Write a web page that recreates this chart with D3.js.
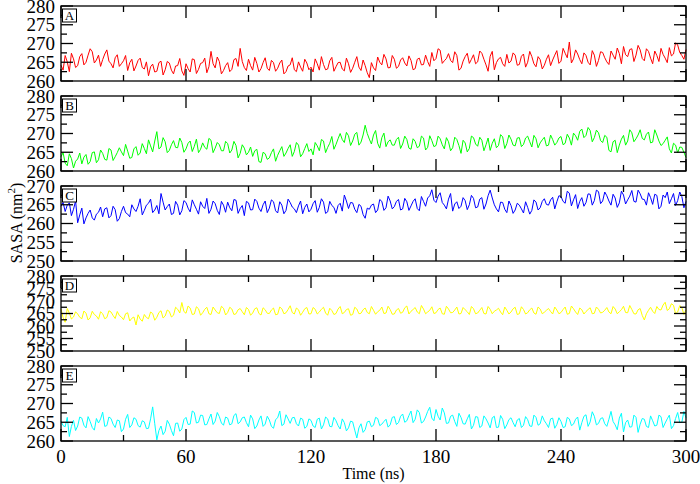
<!DOCTYPE html>
<html>
<head>
<meta charset="utf-8">
<script src="https://cdn.jsdelivr.net/npm/d3@7"></script>
<style>
  body { margin: 0; background: #fff; }
  svg text { font-family: 'Liberation Serif', 'Times New Roman', serif; fill: #000; }
</style>
</head>
<body>
<div id="chart"></div>
<script>
// samples at even ns (0..300) and at odd ns (1..299)
var xTicks = [0, 60, 120, 180, 240, 300];
var panelLabels = ['A', 'B', 'C', 'D', 'E'];
var panelColors = ['#ff0000', '#00ff00', '#0000ff', '#ffff00', '#00ffff'];
var yDomains = [[260, 280], [260, 280], [250, 270], [250, 280], [260, 280]];

var sasaA = [
  264.2, 266.8, 262.5, 265.9, 264.1, 267.3, 265.0, 268.6, 264.8, 266.9,
  265.7, 268.3, 264.6, 266.2, 263.9, 265.4, 262.8, 265.8, 264.0, 266.1,
  263.2, 261.4, 264.5, 262.6, 265.3, 263.0, 264.8, 261.9, 264.1, 262.7,
  264.6, 262.4, 265.7, 263.1, 264.9, 262.2, 267.9, 263.5, 265.2, 262.8,
  264.9, 263.1, 266.0, 268.7, 263.6, 265.8, 262.9, 264.7, 263.3, 266.2,
  262.8, 264.9, 263.4, 265.6, 262.5, 264.3, 263.0, 265.1, 262.6, 264.8,
  263.7, 265.9, 262.9, 264.4, 263.2, 266.3, 263.8, 265.0, 262.7, 264.6,
  263.4, 266.5, 262.8, 264.1, 260.9, 263.5, 266.4, 264.3, 265.9, 263.6,
  265.8, 263.9, 266.2, 264.0, 265.5, 263.3, 266.1, 264.4, 265.2, 267.6,
  266.0, 268.2, 265.4, 267.3, 264.9, 266.8, 263.4, 266.5, 264.7, 267.0,
  265.1, 267.4, 264.3, 266.6, 263.0, 265.9, 264.6, 267.1, 265.3, 266.9,
  264.4, 267.2, 265.0, 266.5, 263.8, 265.7, 264.2, 267.0, 265.6, 268.1,
  265.3, 267.4, 270.4, 265.9, 267.2, 264.6, 266.8, 264.3, 266.9, 265.5,
  267.6, 265.1, 268.0, 265.8, 267.3, 269.2, 266.5, 268.6, 266.9, 268.3,
  265.4, 267.9, 264.6, 266.8, 268.7, 266.1, 268.9, 267.2, 269.6, 266.8,
  268.4
];
var sasaAOdd = [
  262.9, 265.1, 267.4, 263.6, 266.5, 264.3, 266.9, 267.8, 265.6, 263.9,
  267.2, 265.3, 263.5, 267.0, 264.6, 266.8, 264.9, 262.7, 265.5, 263.6,
  265.1, 263.8, 262.4, 264.9, 261.6, 265.2, 262.9, 264.0, 266.0, 261.5,
  263.3, 265.9, 262.0, 264.7, 266.1, 263.8, 264.6, 266.4, 261.9, 264.1,
  262.5, 265.7, 263.9, 265.2, 262.8, 264.1, 266.3, 262.4, 264.9, 263.4,
  265.5, 262.6, 264.8, 261.9, 264.0, 266.2, 262.5, 263.7, 265.8, 263.0,
  262.4, 264.6, 266.5, 263.0, 265.4, 262.6, 264.9, 263.2, 266.1, 262.3,
  265.0, 263.7, 265.6, 262.2, 264.9, 262.8, 265.0, 267.1, 263.5, 266.8,
  263.4, 265.6, 264.8, 266.7, 263.0, 265.8, 264.3, 266.9, 263.9, 265.4,
  268.6, 264.7, 266.0, 265.5, 267.8, 262.9, 265.3, 267.4, 265.8, 264.6,
  268.0, 265.8, 262.6, 267.9, 264.9, 266.3, 263.9, 264.8, 267.5, 264.2,
  266.6, 263.7, 267.9, 264.6, 266.5, 263.2, 265.8, 264.1, 266.9, 264.7,
  268.7, 266.2, 264.8, 268.3, 265.7, 267.5, 265.0, 268.1, 263.9, 267.8,
  266.2, 264.4, 266.9, 268.8, 264.6, 267.0, 268.4, 265.2, 269.5, 266.0,
  268.6, 266.1, 268.0, 265.2, 267.1, 264.9, 266.7, 270.2, 267.6, 265.8
];
var sasaB = [
  263.8, 262.1, 264.6, 260.8, 263.2, 261.9, 264.4, 262.5, 265.1, 263.0,
  264.7, 262.9, 265.6, 263.8, 266.2, 264.1, 265.3, 263.6, 266.5, 264.8,
  266.0, 268.3, 265.1, 270.5, 266.4, 267.8, 265.5, 268.1, 266.2, 267.6,
  265.9, 268.0, 266.6, 264.9, 267.5, 265.8, 268.2, 266.1, 267.0, 265.4,
  267.3, 265.6, 266.8, 264.7, 266.1, 265.0, 263.9, 265.8, 262.3, 264.6,
  263.5, 265.9, 264.2, 266.5, 264.8, 267.0, 265.2, 266.9, 264.6, 267.3,
  265.9, 267.6, 265.4, 268.0, 266.3, 269.2, 267.1, 270.0, 267.6, 269.4,
  268.0, 270.3, 267.7, 272.2, 268.5, 269.6, 267.4, 268.9, 266.5, 268.3,
  266.9, 269.0, 267.2, 268.4, 265.8, 267.9, 266.6, 268.8, 266.3, 268.1,
  266.8, 268.6, 265.9, 267.8, 266.2, 268.4, 264.7, 267.5, 266.0, 268.9,
  266.6, 268.2, 267.0, 265.5, 268.6, 266.8, 269.1, 267.3, 268.5, 266.7,
  268.9, 267.1, 269.3, 266.4, 268.6, 267.5, 269.0, 266.9, 268.4, 267.6,
  269.2, 267.4, 268.8, 270.1, 268.2, 271.2, 269.5, 270.8, 268.9, 270.2,
  267.6, 269.0, 265.1, 268.2, 266.9, 269.5, 268.0, 270.2, 268.6, 271.0,
  268.3, 270.4, 267.7, 269.6, 266.8, 268.2, 265.9, 267.4, 264.8, 266.3,
  263.6
];
var sasaBOdd = [
  264.9, 261.4, 263.3, 262.6, 264.8, 263.7, 261.8, 264.9, 262.2, 265.6,
  263.1, 266.0, 262.8, 264.9, 265.1, 267.1, 263.4, 265.9, 264.2, 267.3,
  264.6, 266.7, 268.0, 265.9, 268.9, 264.9, 267.0, 266.3, 268.8, 265.0,
  267.4, 265.2, 268.5, 265.8, 266.3, 268.7, 264.9, 267.6, 265.4, 267.9,
  264.8, 267.9, 263.5, 267.0, 264.3, 266.4, 265.4, 262.5, 265.0, 263.1,
  264.9, 262.6, 265.4, 263.9, 266.0, 263.9, 267.6, 263.8, 266.0, 265.2,
  264.3, 266.7, 268.4, 264.9, 267.4, 265.8, 268.6, 268.4, 270.3, 266.8,
  269.8, 266.9, 269.6, 270.0, 267.2, 270.8, 266.1, 270.1, 267.8, 266.9,
  268.4, 266.0, 269.3, 266.1, 268.6, 266.2, 269.3, 265.6, 269.4, 266.5,
  269.3, 267.0, 268.9, 265.4, 269.0, 266.8, 268.2, 265.1, 269.3, 267.2,
  269.0, 265.4, 268.8, 267.4, 266.2, 269.7, 266.0, 269.6, 266.9, 268.8,
  266.5, 268.8, 267.8, 269.5, 266.2, 268.3, 266.7, 269.6, 266.9, 268.8,
  267.0, 269.8, 266.9, 269.4, 270.6, 268.9, 271.6, 267.8, 270.9, 268.1,
  269.5, 265.5, 267.8, 264.9, 268.5, 266.9, 271.0, 267.8, 269.6, 268.7,
  269.8, 267.5, 271.0, 268.0, 267.3, 269.1, 264.8, 266.9, 266.4, 265.0
];
var sasaC = [
  264.6, 263.2, 265.5, 263.8, 260.2, 264.1, 261.5, 263.6, 260.9, 263.0,
  261.8, 264.2, 262.1, 263.7, 261.3, 264.6, 262.5, 265.0, 263.2, 266.6,
  263.5, 265.4, 262.9, 264.8, 268.0, 263.6, 265.2, 262.7, 264.9, 263.4,
  265.6, 263.1, 265.0, 262.5, 264.6, 266.7, 263.8, 265.3, 262.4, 264.9,
  265.7, 263.4, 266.2, 264.0, 262.1, 265.5, 263.7, 265.9, 263.2, 266.0,
  264.1, 265.8, 262.8, 264.9, 263.5, 265.6, 263.9, 264.7, 262.6, 265.2,
  263.8, 266.1, 264.3, 265.7, 263.1, 264.8, 262.7, 265.4, 267.6, 264.0,
  265.5, 262.9, 264.6, 261.4, 263.8, 265.2, 263.6, 265.9, 264.2, 266.0,
  264.5, 266.4, 263.9, 265.8, 264.7, 266.6, 263.4, 265.9, 266.8, 269.0,
  265.6, 268.2, 264.9, 266.5, 263.3, 265.8, 264.6, 266.1, 265.0, 266.7,
  264.4, 266.9, 265.2, 268.9, 265.0, 263.1, 265.6, 262.9, 264.8, 263.6,
  264.9, 262.8, 264.3, 263.5, 265.7, 264.2, 266.6, 264.9, 267.0, 265.8,
  267.2, 265.4, 268.1, 266.3, 264.0, 266.9, 265.6, 267.8, 266.1, 268.5,
  266.0, 267.4, 264.9, 266.8, 265.5, 267.6, 266.3, 268.8, 265.7, 267.9,
  266.4, 268.2, 265.1, 267.5, 264.6, 266.9, 265.3, 268.0, 266.1, 267.2,
  265.9
];
var sasaCOdd = [
  265.6, 264.9, 262.1, 266.0, 262.3, 259.9, 262.7, 261.5, 262.5, 264.4,
  263.9, 261.5, 264.6, 260.6, 263.2, 262.9, 261.8, 263.9, 264.6, 262.3,
  264.9, 266.5, 263.6, 262.6, 265.7, 264.5, 262.4, 265.9, 262.3, 266.1,
  264.1, 266.3, 263.8, 265.8, 264.0, 262.7, 266.0, 263.5, 265.9, 263.0,
  264.2, 266.4, 262.7, 264.8, 265.9, 263.6, 266.5, 264.1, 265.0, 262.9,
  266.3, 263.4, 265.8, 262.6, 266.5, 264.4, 262.9, 266.0, 264.3, 263.1,
  265.3, 263.0, 266.6, 262.7, 265.9, 264.3, 264.8, 263.3, 266.0, 265.6,
  263.8, 265.1, 262.4, 264.1, 264.9, 262.9, 266.4, 263.5, 267.3, 263.9,
  265.9, 263.6, 266.7, 263.5, 265.9, 264.0, 267.2, 264.6, 267.4, 266.2,
  267.3, 265.6, 263.9, 268.0, 265.2, 264.0, 266.9, 263.7, 267.5, 264.2,
  266.5, 263.8, 267.4, 266.8, 263.9, 265.7, 263.8, 266.0, 262.7, 265.4,
  263.9, 265.8, 262.5, 266.3, 263.6, 265.9, 265.1, 266.3, 263.9, 267.4,
  265.9, 268.6, 264.7, 267.7, 265.9, 264.6, 267.9, 264.9, 268.9, 265.3,
  268.4, 266.0, 267.8, 264.3, 268.6, 265.2, 267.3, 265.9, 268.9, 266.5,
  264.9, 266.9, 267.8, 263.9, 267.6, 268.4, 266.6, 264.8, 268.4, 264.2
];
var sasaD = [
  266.8, 261.5, 265.2, 263.6, 264.8, 262.9, 265.1, 263.3, 264.6, 262.7,
  264.9, 263.4, 265.6, 263.0, 264.2, 262.5, 265.3, 263.1, 260.4, 262.8,
  264.6, 262.9, 265.0, 263.5, 266.1, 264.0, 265.8, 264.3, 266.7, 269.4,
  265.1, 267.2, 264.8, 266.9, 265.3, 267.5, 264.6, 266.4, 265.0, 267.1,
  265.4, 266.8, 264.9, 267.0, 264.5, 266.6, 265.2, 267.3, 264.4, 266.5,
  265.0, 267.2, 264.7, 266.9, 265.3, 268.1, 264.8, 266.5, 265.5, 267.4,
  264.9, 266.7, 265.6, 267.5, 264.3, 266.2, 265.0, 267.8, 265.4, 266.9,
  264.6, 266.8, 265.1, 267.2, 264.9, 266.3, 265.7, 267.6, 265.2, 266.6,
  264.8, 267.0, 265.5, 268.0, 265.9, 267.4, 264.9, 266.8, 265.6, 267.7,
  265.3, 267.2, 264.7, 266.8, 265.4, 267.6, 265.0, 266.5, 264.6, 266.9,
  265.2, 267.4, 264.8, 266.7, 265.9, 267.1, 264.5, 266.3, 265.6, 267.5,
  264.9, 266.6, 265.3, 267.2, 264.7, 266.8, 265.5, 267.0, 264.8, 266.4,
  265.4, 267.6, 265.0, 266.9, 264.6, 266.5, 265.8, 267.3, 265.1, 266.7,
  265.5, 267.4, 264.9, 266.8, 265.7, 267.9, 265.3, 266.6, 264.8, 267.0,
  262.4, 266.3, 265.9, 267.8, 266.4, 269.5, 266.9, 268.3, 265.6, 267.4,
  266.5
];
var sasaDOdd = [
  263.4, 267.0, 262.8, 265.7, 263.5, 266.0, 262.4, 265.9, 264.0, 265.7,
  262.9, 266.1, 264.2, 265.8, 263.6, 264.9, 262.0, 263.6, 264.5, 261.9,
  263.4, 265.6, 262.3, 265.4, 263.2, 266.4, 263.6, 267.5, 265.2, 265.8,
  268.0, 264.6, 267.7, 264.3, 266.7, 264.9, 267.6, 265.3, 267.9, 264.4,
  267.5, 264.6, 266.5, 265.7, 267.4, 264.3, 266.9, 265.0, 267.3, 265.1,
  266.4, 264.5, 267.6, 264.9, 266.6, 265.4, 267.2, 264.3, 266.9, 264.8,
  267.4, 264.8, 266.7, 265.2, 267.1, 264.6, 266.8, 264.9, 266.6, 264.3,
  267.5, 264.9, 266.5, 265.4, 267.8, 264.7, 266.3, 265.0, 267.9, 264.7,
  266.4, 265.1, 267.3, 264.8, 266.6, 265.6, 268.2, 264.9, 266.3, 265.0,
  266.6, 264.9, 267.9, 265.3, 266.4, 264.8, 267.4, 265.7, 267.8, 264.9,
  266.3, 265.0, 267.8, 264.9, 266.4, 265.6, 267.6, 264.8, 266.9, 264.6,
  267.7, 264.8, 266.5, 265.2, 267.6, 264.9, 266.3, 265.8, 267.6, 264.9,
  266.6, 264.7, 268.0, 265.6, 267.2, 264.8, 266.6, 264.9, 267.6, 265.2,
  266.3, 265.6, 267.8, 264.9, 266.5, 265.4, 268.2, 264.9, 266.5, 264.2,
  264.9, 267.5, 265.0, 266.6, 268.4, 266.2, 268.9, 264.9, 268.2, 264.6
];
var sasaE = [
  265.3, 263.8, 261.2, 265.5, 264.0, 266.1, 263.5, 265.2, 262.9, 264.8,
  267.7, 264.1, 266.0, 263.6, 265.4, 263.2, 267.1, 264.3, 265.8, 263.7,
  265.1, 263.4, 269.1, 260.3, 264.0, 262.6, 264.5, 261.4, 264.8, 263.2,
  266.3, 264.5, 267.6, 265.0, 266.8, 264.4, 267.2, 265.3, 266.5, 264.2,
  266.1, 264.6, 267.3, 265.1, 266.4, 263.8, 265.9, 264.0, 266.7, 264.5,
  265.6, 263.4, 266.2, 264.1, 267.0, 264.7, 266.3, 264.0, 265.8, 263.9,
  265.5, 263.6, 266.1, 264.3, 265.9, 263.8, 265.4, 263.2, 264.9, 263.5,
  265.1, 260.8, 264.6, 263.0, 265.3, 264.2, 266.0, 264.5, 265.8, 264.3,
  266.5, 264.9, 267.2, 265.4, 268.0, 265.8, 267.6, 265.2, 267.9, 266.1,
  268.4, 265.6, 267.5, 264.8, 266.9, 263.9, 266.3, 264.5, 267.1, 264.2,
  266.4, 264.0, 265.9, 263.5, 266.6, 263.7, 265.8, 264.3, 266.2, 263.8,
  266.0, 264.2, 265.7, 263.9, 266.3, 264.6, 265.4, 263.6, 266.1, 264.4,
  265.2, 263.8, 265.9, 264.5, 266.4, 264.9, 267.0, 265.1, 266.6, 264.7,
  266.2, 263.9, 267.9, 264.3, 266.1, 262.4, 265.6, 263.8, 266.3, 264.5,
  265.8, 263.6, 265.4, 264.2, 266.5, 264.8, 266.9, 264.1, 267.6, 265.0,
  266.2
];
var sasaEOdd = [
  264.1, 266.3, 263.9, 262.8, 266.4, 264.2, 266.5, 263.6, 266.0, 265.9,
  263.9, 266.4, 264.5, 265.6, 262.5, 265.8, 263.6, 266.2, 264.1, 265.4,
  263.3, 265.9, 264.6, 262.8, 261.7, 265.5, 262.8, 264.7, 262.6, 265.7,
  264.4, 268.0, 264.8, 266.9, 264.3, 265.9, 264.4, 267.6, 264.8, 266.4,
  264.3, 266.8, 264.6, 266.2, 264.9, 266.9, 263.3, 265.6, 263.9, 266.6,
  263.9, 265.7, 268.0, 264.5, 265.9, 266.2, 264.6, 266.1, 263.4, 265.9,
  264.0, 265.8, 263.2, 266.4, 263.9, 266.3, 264.1, 265.9, 262.7, 265.3,
  262.9, 263.5, 262.3, 265.1, 263.8, 266.3, 264.1, 265.2, 263.7, 266.3,
  264.4, 266.6, 265.0, 266.8, 264.9, 268.3, 264.8, 266.4, 269.0, 265.4,
  266.6, 268.8, 264.7, 266.6, 265.2, 267.4, 264.6, 265.9, 263.2, 266.5,
  263.6, 266.7, 264.8, 266.2, 263.6, 266.8, 263.3, 265.7, 264.9, 265.6,
  263.6, 266.5, 264.0, 266.9, 264.2, 266.7, 264.6, 265.9, 263.4, 266.2,
  263.6, 266.3, 264.1, 265.8, 262.9, 266.6, 263.9, 267.8, 264.3, 266.0,
  264.6, 265.8, 265.2, 263.0, 267.4, 264.9, 263.7, 266.9, 262.3, 266.0,
  263.9, 266.7, 264.0, 266.9, 263.6, 265.9, 263.3, 266.0, 264.9, 267.9
];
var evenSeries = [sasaA, sasaB, sasaC, sasaD, sasaE];
var oddSeries = [sasaAOdd, sasaBOdd, sasaCOdd, sasaDOdd, sasaEOdd];

var width = 700;
var height = 484;
var margin = { left: 61, right: 14 };
var panelTops = [6, 96, 186, 276, 366];
var panelHeight = 75;

var svg = d3.select('#chart').append('svg')
  .attr('width', width)
  .attr('height', height);

var x = d3.scaleLinear()
  .domain([0, 300])
  .range([margin.left, width - margin.right]);

var xMinor = d3.range(30, 300, 60);

// merge even and odd samples into one time-ordered list
function mergeSeries(even, odd) {
  var pts = [];
  even.forEach(function (v, k) {
    pts.push({ t: 2 * k, v: v });
    if (k < odd.length) {
      pts.push({ t: 2 * k + 1, v: odd[k] });
    }
  });
  return pts;
}

panelTops.forEach(function (top, i) {
  var dom = yDomains[i];
  var y = d3.scaleLinear()
    .domain(dom)
    .range([top + panelHeight, top]);
  var g = svg.append('g');
  var yMajor = d3.range(dom[0], dom[1] + 0.1, 5);
  var yMinor = d3.range(dom[0] + 2.5, dom[1], 5);

  var line = d3.line()
    .x(function (d) { return x(d.t); })
    .y(function (d) { return y(d.v); });

  g.append('path')
    .datum(mergeSeries(evenSeries[i], oddSeries[i]))
    .attr('d', line)
    .attr('fill', 'none')
    .attr('stroke', panelColors[i])
    .attr('stroke-width', 1);

  // inward ticks on all four sides
  var ticks = g.append('g')
    .attr('stroke', '#000')
    .attr('stroke-width', 1.3);
  xTicks.forEach(function (t) {
    ticks.append('line').attr('x1', x(t)).attr('x2', x(t)).attr('y1', top).attr('y2', top + 12);
    ticks.append('line').attr('x1', x(t)).attr('x2', x(t)).attr('y1', top + panelHeight).attr('y2', top + panelHeight - 12);
  });
  xMinor.forEach(function (t) {
    ticks.append('line').attr('x1', x(t)).attr('x2', x(t)).attr('y1', top).attr('y2', top + 6);
    ticks.append('line').attr('x1', x(t)).attr('x2', x(t)).attr('y1', top + panelHeight).attr('y2', top + panelHeight - 6);
  });
  yMajor.forEach(function (v) {
    ticks.append('line').attr('x1', x(0)).attr('x2', x(0) + 12).attr('y1', y(v)).attr('y2', y(v));
    ticks.append('line').attr('x1', x(300)).attr('x2', x(300) - 12).attr('y1', y(v)).attr('y2', y(v));
  });
  yMinor.forEach(function (v) {
    ticks.append('line').attr('x1', x(0)).attr('x2', x(0) + 6).attr('y1', y(v)).attr('y2', y(v));
    ticks.append('line').attr('x1', x(300)).attr('x2', x(300) - 6).attr('y1', y(v)).attr('y2', y(v));
  });

  g.append('rect')
    .attr('x', x(0))
    .attr('y', top)
    .attr('width', x(300) - x(0))
    .attr('height', panelHeight)
    .attr('fill', 'none')
    .attr('stroke', '#000')
    .attr('stroke-width', 1.3);

  g.selectAll('text.ylab')
    .data(yMajor)
    .enter()
    .append('text')
    .attr('class', 'ylab')
    .attr('x', x(0) - 6)
    .attr('y', function (d) { return y(d) + 6.5; })
    .attr('text-anchor', 'end')
    .style('font-size', '19px')
    .text(function (d) { return d; });

  // panel letter in a box
  g.append('rect')
    .attr('x', x(0) + 1.5)
    .attr('y', top + 3)
    .attr('width', 14)
    .attr('height', 13)
    .attr('fill', '#fff')
    .attr('stroke', '#000')
    .attr('stroke-width', 1);
  g.append('text')
    .attr('x', x(0) + 8.5)
    .attr('y', top + 14)
    .attr('text-anchor', 'middle')
    .style('font-size', '13px')
    .text(panelLabels[i]);
});

svg.selectAll('text.xlab')
  .data(xTicks)
  .enter()
  .append('text')
  .attr('class', 'xlab')
  .attr('x', function (d) { return x(d); })
  .attr('y', 463)
  .attr('text-anchor', 'middle')
  .style('font-size', '19px')
  .text(function (d) { return d; });

svg.append('text')
  .attr('x', (x(0) + x(300)) / 2)
  .attr('y', 479)
  .attr('text-anchor', 'middle')
  .style('font-size', '16px')
  .text('Time (ns)');

var yTitle = svg.append('text')
  .attr('transform', 'translate(22,' + 223 + ') rotate(-90)')
  .attr('text-anchor', 'middle')
  .style('font-size', '16px');
yTitle.append('tspan').text('SASA (nm');
yTitle.append('tspan').attr('dy', -7).style('font-size', '11px').text('2');
yTitle.append('tspan').attr('dy', 7).text(')');
</script>
</body>
</html>
